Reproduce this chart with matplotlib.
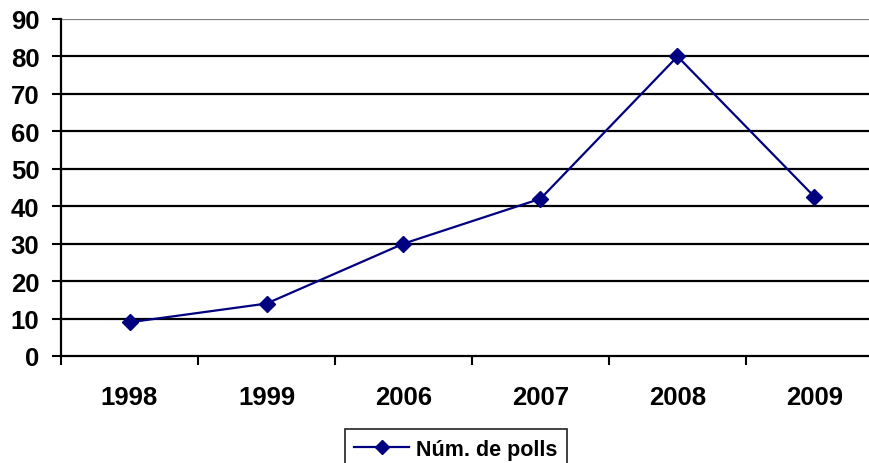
import matplotlib
matplotlib.use("Agg")
import matplotlib.pyplot as plt
from matplotlib.lines import Line2D

years = ["1998", "1999", "2006", "2007", "2008", "2009"]
polls = [9, 14, 30, 42, 80, 42.5]
yticks = [0, 10, 20, 30, 40, 50, 60, 70, 80, 90]

plt.rcParams['font.family'] = ['Liberation Sans', 'DejaVu Sans']

fig = plt.figure(figsize=(8.7, 4.64), dpi=100)
W, H = 870, 464
ax = fig.add_axes([61 / W, 1 - 357 / H, (883 - 61) / W, (357 - 20) / H])

x = list(range(len(years)))
ax.plot(x, polls, color="#000080", lw=1.6, marker="D", markersize=8.5, zorder=3,
        clip_on=False)

ax.set_xlim(-0.5, len(years) - 0.5)
ax.set_ylim(0, 90)

for v in yticks[1:]:
    ax.axhline(v, color="#808080" if v == 90 else "black", lw=1.6, zorder=1)

ax.set_yticks(yticks)
ax.set_yticklabels([str(v) for v in yticks], fontsize=18.5, fontweight="bold")
ax.tick_params(axis="y", direction="out", length=6.5, width=1.5, pad=9)

ax.set_xticks([i - 0.5 for i in range(len(years) + 1)])
ax.set_xticklabels([])
ax.tick_params(axis="x", direction="out", length=6.5, width=1.5)
ax.set_xticks(x, minor=True)
ax.set_xticklabels(years, minor=True, fontsize=18.5, fontweight="bold")
ax.tick_params(axis="x", which="minor", length=0, pad=21)

for s in ["top", "right"]:
    ax.spines[s].set_visible(False)
for s in ["left", "bottom"]:
    ax.spines[s].set_linewidth(1.6)
    ax.spines[s].set_color("black")

handle = Line2D([], [], color="#000080", lw=1.6, marker="D", markersize=7.5)
leg = fig.legend([handle], ["Núm. de polls"], loc="upper center",
                 bbox_to_anchor=(456 / W, 1 - 430 / H),
                 prop={"weight": "bold", "size": 15.5}, frameon=True,
                 fancybox=False, edgecolor="black", handlelength=2.55,
                 handletextpad=0.33, borderpad=0.45, borderaxespad=0)
leg.get_frame().set_linewidth(1.3)

fig.savefig("out.png", dpi=100)
